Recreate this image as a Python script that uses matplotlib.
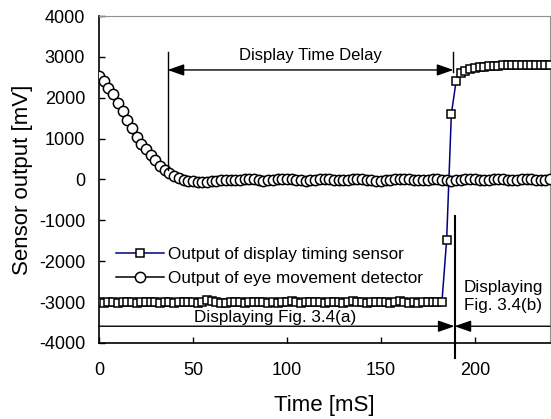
import numpy as np
import matplotlib
matplotlib.use("Agg")
import matplotlib.pyplot as plt

plt.rcParams['font.family'] = ['Liberation Sans', 'DejaVu Sans']
plt.rcParams['axes.unicode_minus'] = False

dt = 2.5  # sampling interval [ms]

# Output of eye movement detector [mV]
eye = [2540, 2400, 2250, 2080, 1880, 1670, 1450, 1260, 1030, 870,
       740, 610, 470, 340, 240, 150, 85, 30, -10, -30,
       -40, -50, -50, -50, -40, -30, -20, -10, -10, -20,
       -10, 0, 10, 0, -20, -30, -20, -10, 0, 10,
       10, 0, -10, -20, -30, -20, -10, 0, 10, 0,
       -10, -20, -20, -10, 0, 10, 0, -10, -20, -30,
       -30, -20, -10, 0, 10, 10, 0, -10, -20, -20,
       -10, 0, 0, -10, -20, -30, -20, -10, 0, 10,
       0, -10, -20, -10, 0, 10, 0, -10, -20, -10,
       0, 10, 0, -10, -20, -10, 0]

# Output of display timing sensor [mV]
sensor = [-3000, -3010, -2990, -3000, -3020, -3000, -2990, -3000, -3010, -3000,
          -2990, -3000, -3000, -3010, -2990, -3000, -3020, -3000, -3000, -2990,
          -3000, -3010, -3000, -2960, -2980, -3000, -3020, -3010, -3000, -2990,
          -3000, -3010, -3000, -3000, -2990, -3000, -3020, -3000, -3010, -2990,
          -3000, -2970, -3000, -3010, -3000, -2990, -3000, -3000, -3020, -3000,
          -2990, -3000, -3010, -3000, -2970, -2990, -3000, -3010, -3000, -3000,
          -2990, -3000, -3010, -3000, -2970, -3000, -3020, -3000, -3010, -3000,
          -2990, -3000, -3000, -2990,
          -1470, 1600, 2400, 2600, 2660, 2700, 2730, 2750, 2760, 2770,
          2780, 2780, 2790, 2790, 2800, 2800, 2800, 2800, 2790, 2800,
          2800, 2800, 2800]

t_eye = np.arange(len(eye)) * dt
t_sensor = np.arange(len(sensor)) * dt

x_ticks = [0, 50, 100, 150, 200]
y_ticks = [-4000, -3000, -2000, -1000, 0, 1000, 2000, 3000, 4000]

# annotation positions (data units)
delay_start, delay_end = 36.5, 188.6
switch_t = 189.2

fig = plt.figure(figsize=(5.51, 4.19), dpi=100)
ax = fig.add_axes([0.1797, 0.1814, 0.8185, 0.7804])

ax.plot(t_sensor, sensor, color='#000080', lw=1.1, marker='s', ms=5.6,
        mfc='white', mec='black', mew=1.1, zorder=3,
        label='Output of display timing sensor')
ax.plot(t_eye, eye, color='black', lw=1.1, marker='o', ms=7.4,
        mfc='white', mec='black', mew=1.1, zorder=4,
        label='Output of eye movement detector')

ax.set_xlim(0, 240)
ax.set_ylim(-4000, 4000)
ax.set_xticks(x_ticks)
ax.set_yticks(y_ticks)
ax.tick_params(axis='both', direction='in', length=4, width=1, labelsize=13)
ax.tick_params(axis='x', pad=14)
ax.tick_params(axis='y', pad=10)
for s in ['top', 'right']:
    ax.spines[s].set_color('#909090')
for s in ['left', 'bottom']:
    ax.spines[s].set_color('black')
    ax.spines[s].set_linewidth(1.2)

ax.set_xlabel('Time [mS]', fontsize=16, labelpad=11)
ax.set_ylabel('Sensor output [mV]', fontsize=16, labelpad=4)

# Display Time Delay
ax.plot([delay_start, delay_start], [3120, 240], color='black', lw=1.0, zorder=5)
ax.plot([delay_end, delay_end], [3120, 2630], color='black', lw=1.0, zorder=5)
ax.annotate('', xy=(delay_start, 2680), xytext=(delay_end, 2680),
            arrowprops=dict(arrowstyle='<|-|>,head_length=1.0,head_width=0.35',
                            color='black', lw=1.0, shrinkA=0, shrinkB=0))
ax.text((delay_start + delay_end) / 2, 3030, 'Display Time Delay',
        fontsize=12, ha='center', va='center')

# Switching line and bottom arrows
ax.plot([switch_t, switch_t], [-900, -4370], color='black', lw=1.5,
        clip_on=False, zorder=5)
ax.annotate('', xy=(switch_t, -3590), xytext=(0, -3590),
            arrowprops=dict(arrowstyle='-|>,head_length=1.0,head_width=0.35',
                            color='black', lw=1.0, shrinkA=0, shrinkB=0))
ax.annotate('', xy=(switch_t, -3590), xytext=(240, -3590),
            arrowprops=dict(arrowstyle='-|>,head_length=1.0,head_width=0.35',
                            color='black', lw=1.0, shrinkA=0, shrinkB=0))
ax.text(93.6, -3380, 'Displaying Fig. 3.4(a)', fontsize=12.3,
        ha='center', va='center')
ax.text(194, -2860, 'Displaying\nFig. 3.4(b)', fontsize=12.3,
        ha='left', va='center', linespacing=1.3)

leg = ax.legend(loc='upper left', bbox_to_anchor=(0.031, 0.304), frameon=False,
                fontsize=12.3, handlelength=2.8, handletextpad=0.2,
                labelspacing=0.55, borderpad=0.2, borderaxespad=0)

fig.savefig('out.png', dpi=100)
